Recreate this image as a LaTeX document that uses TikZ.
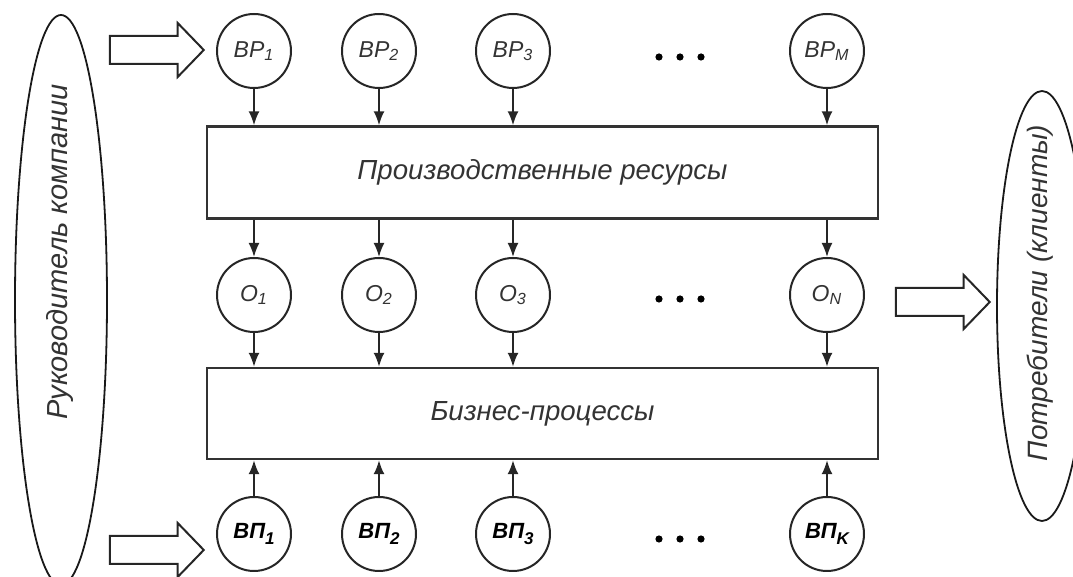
\documentclass[tikz,border=0pt]{standalone}
\usepackage{fontspec}
\setmainfont{Liberation Sans}
\usetikzlibrary{arrows.meta,shapes.geometric,shapes.arrows,positioning}

\newcommand{\sub}[1]{\textsubscript{#1}}
\newcommand{\bigsub}[1]{\raisebox{-3.2pt}{\fontsize{8.5}{10}\selectfont#1}}

\begin{document}
\begin{tikzpicture}[x=0.5pt,y=-0.5pt,
  res/.style={circle,draw=black!85,line width=1pt,minimum size=37pt,inner sep=0pt,
    font=\itshape\fontsize{11.5}{13}\selectfont,text=black!80},
  pro/.style={res,text=black,font=\bfseries\itshape\fontsize{11}{13}\selectfont},
  block/.style={rectangle,draw=black!80,line width=1.2pt,minimum width=335.5pt,
    minimum height=46pt,font=\itshape\fontsize{13.8}{16}\selectfont,text=black!80},
  actor/.style={ellipse,draw=black!90,line width=0.9pt,inner sep=0pt},
  fat/.style={single arrow,draw=black!85,line width=1pt,minimum height=47pt,
    inner sep=6.5pt,single arrow head extend=6.5pt,single arrow tip angle=92,
    single arrow head indent=0pt},
  flow/.style={-{Latex[length=7pt,width=5.5pt]},line width=0.9pt,black!85},
  dot/.style={circle,fill=black,inner sep=0pt,minimum size=3.6pt}]
  \useasboundingbox (0,0) rectangle (1073,577);

  % people on both sides
  \node[actor,minimum width=46pt,minimum height=285pt] (boss) at (61,300) {};
  \node[rotate=90,font=\itshape\fontsize{14.5}{16}\selectfont,text=black!80] at (60,252) {Руководитель компании};
  \node[actor,minimum width=45pt,minimum height=215pt] (client) at (1042,306) {};
  \node[rotate=90,font=\itshape\fontsize{14}{16}\selectfont,text=black!80] at (1040,293) {Потребители (клиенты)};

  % resources in
  \node[res] (vr_1) at (254,51) {ВР\sub{1}};
  \node[res] (vr_2) at (379,51) {ВР\sub{2}};
  \node[res] (vr_3) at (513,51) {ВР\sub{3}};
  \node[res] (vr_m) at (827,51) {ВР\sub{M}};

  \node[block] (prod) at (542.5,172.5) {Производственные ресурсы};

  % objects
  \node[res] (o_1) at (254,295) {O\sub{1}};
  \node[res] (o_2) at (379,295) {O\sub{2}};
  \node[res] (o_3) at (513,295) {O\sub{3}};
  \node[res] (o_n) at (827,295) {O\sub{N}};

  \node[block,minimum height=45.5pt] (biz) at (542.5,413.5) {Бизнес-процессы};

  % processes in
  \node[pro] (vp_1) at (254,534) {ВП\bigsub{1}};
  \node[pro] (vp_2) at (379,534) {ВП\bigsub{2}};
  \node[pro] (vp_3) at (513,534) {ВП\bigsub{3}};
  \node[pro] (vp_k) at (827,534) {ВП\bigsub{K}};

  % dots
  \node[dot] (d_1) at (659,57) {};  \node[dot] (d_2) at (680,57) {};  \node[dot] (d_3) at (701,57) {};
  \node[dot] (d_4) at (659,299) {}; \node[dot] (d_5) at (680,299) {}; \node[dot] (d_6) at (701,299) {};
  \node[dot] (d_7) at (659,539) {}; \node[dot] (d_8) at (680,539) {}; \node[dot] (d_9) at (701,539) {};

  % big arrows
  \node[fat] (in_top) at (150,50) {};
  \node[fat] (out)    at (936,302) {};
  \node[fat] (in_bot) at (150,550) {};

  \draw[flow] (vr_1) -- (vr_1 |- prod.north);
  \draw[flow] (vr_2) -- (vr_2 |- prod.north);
  \draw[flow] (vr_3) -- (vr_3 |- prod.north);
  \draw[flow] (vr_m) -- (vr_m |- prod.north);
  \draw[flow] (o_1 |- prod.south) -- (o_1);
  \draw[flow] (o_2 |- prod.south) -- (o_2);
  \draw[flow] (o_3 |- prod.south) -- (o_3);
  \draw[flow] (o_n |- prod.south) -- (o_n);
  \draw[flow] (o_1) -- (o_1 |- biz.north);
  \draw[flow] (o_2) -- (o_2 |- biz.north);
  \draw[flow] (o_3) -- (o_3 |- biz.north);
  \draw[flow] (o_n) -- (o_n |- biz.north);
  \draw[flow] (vp_1) -- (vp_1 |- biz.south);
  \draw[flow] (vp_2) -- (vp_2 |- biz.south);
  \draw[flow] (vp_3) -- (vp_3 |- biz.south);
  \draw[flow] (vp_k) -- (vp_k |- biz.south);
\end{tikzpicture}
\end{document}
